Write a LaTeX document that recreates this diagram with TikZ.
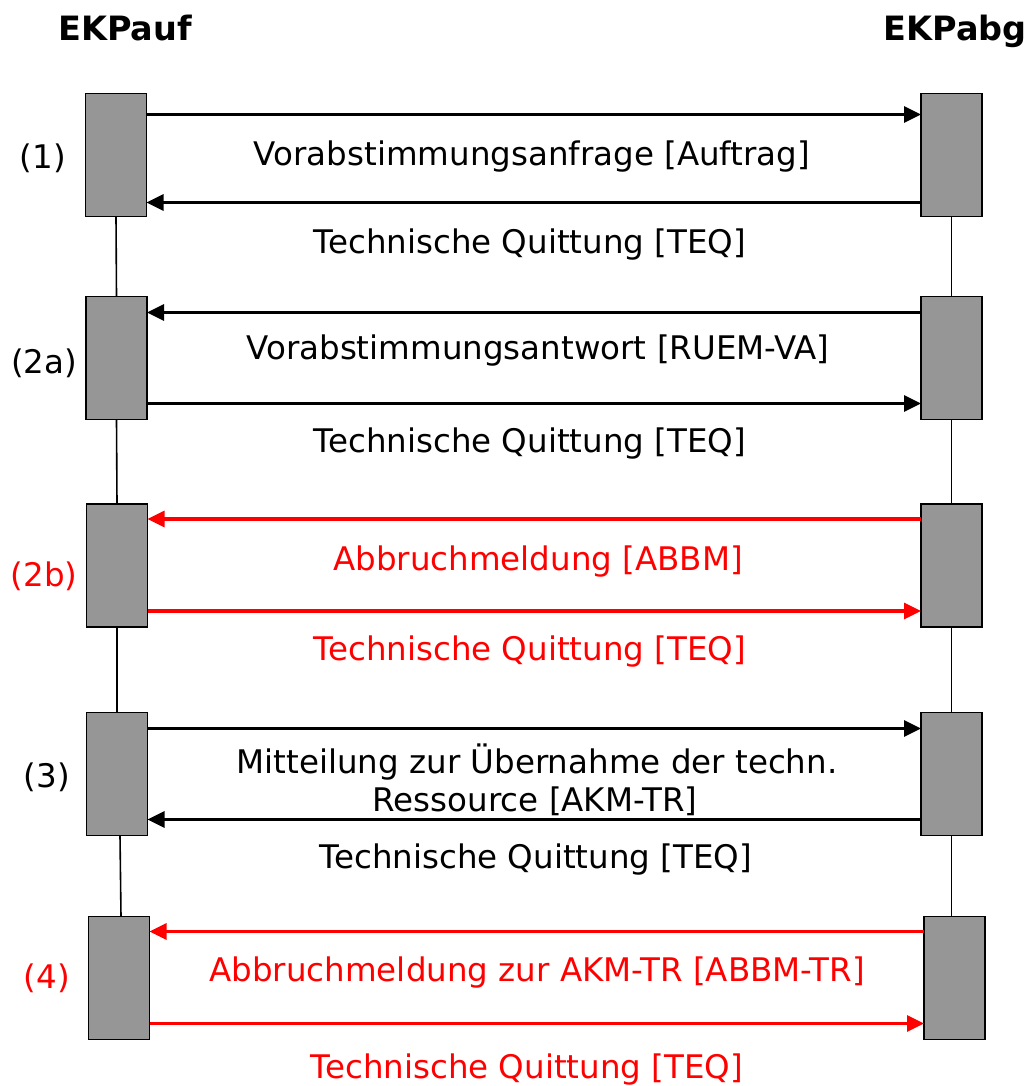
\documentclass[tikz,border=0pt]{standalone}
\usepackage{fontspec}
\setmainfont{DejaVu Sans}
\usetikzlibrary{arrows.meta}
\definecolor{boxgray}{RGB}{150,150,150}
\definecolor{msgred}{RGB}{255,0,0}
\begin{document}
\begin{tikzpicture}[x=1pt,y=-1pt,
  actbox/.style={draw=black,line width=1.8pt,fill=boxgray,minimum width=61pt,minimum height=123pt,inner sep=0pt,outer sep=0pt},
  lifeline/.style={draw=black,line width=1.6pt},
  msg/.style={line width=3.2pt,-{Triangle[length=17pt,width=16pt]}},
  redmsg/.style={msg,draw=msgred,color=msgred},
  lbl/.style={font=\fontsize{32.5}{38}\selectfont,inner sep=0pt,anchor=base},
  redlbl/.style={lbl,text=msgred},
  title/.style={font=\fontsize{33.5}{40}\selectfont\bfseries,inner sep=0pt,anchor=base}]
\useasboundingbox (0,0) rectangle (1026,1086);

% titles
\node[title] (tl) at (125,41) {EKPauf};
\node[title] (tr) at (955,41) {EKPabg};

% boxes
\node[actbox] (b1L) at (116,155) {};
\node[actbox] (b1R) at (951.5,155) {};
\node[actbox] (b2L) at (116.5,358) {};
\node[actbox] (b2R) at (951.5,358) {};
\node[actbox] (b3L) at (117,565.5) {};
\node[actbox] (b3R) at (951.5,565.5) {};
\node[actbox] (b4L) at (117,774) {};
\node[actbox] (b4R) at (951.5,774) {};
\node[actbox] (b5L) at (119,978) {};
\node[actbox] (b5R) at (954.5,978) {};

% lifelines
\draw[lifeline] (b1L.south) -- (b2L.north);
\draw[lifeline] (b2L.south) -- (b3L.north);
\draw[lifeline] (b3L.south) -- (b4L.north);
\draw[lifeline] ([xshift=3pt]b4L.south) -- ([xshift=2pt]b5L.north);
\draw[lifeline] (b1R.south) -- (b2R.north);
\draw[lifeline] (b2R.south) -- (b3R.north);
\draw[lifeline] (b3R.south) -- (b4R.north);
\draw[lifeline] (b4R.south) -- ([xshift=-3pt]b5R.north);

% phase labels
\node[lbl] (p1) at (43,169) {(1)};
\node[lbl] (p2a) at (44,373) {(2a)};
\node[redlbl] (p2b) at (44,586) {(2b)};
\node[lbl] (p3) at (47,787) {(3)};
\node[redlbl] (p4) at (47,988) {(4)};

% phase 1
\draw[msg] ([yshift=-21pt]b1L.north east) -- ([yshift=-21pt]b1R.north west);
\draw[msg] ([yshift=14pt]b1R.south west) -- ([yshift=14pt]b1L.south east);
\node[lbl] (m1a) at (532,166) {Vorabstimmungsanfrage [Auftrag]};
\node[lbl] (m1b) at (530,253) {Technische Quittung [TEQ]};

% phase 2a
\draw[msg] ([yshift=-16pt]b2R.north west) -- ([yshift=-16pt]b2L.north east);
\draw[msg] ([yshift=16pt]b2L.south east) -- ([yshift=16pt]b2R.south west);
\node[lbl] (m2a) at (538,359) {Vorabstimmungsantwort [RUEM-VA]};
\node[lbl] (m2b) at (530,452) {Technische Quittung [TEQ]};

% phase 2b
\draw[redmsg] ([yshift=-15pt]b3R.north west) -- ([yshift=-15pt]b3L.north east);
\draw[redmsg] ([yshift=16pt]b3L.south east) -- ([yshift=16pt]b3R.south west);
\node[redlbl] (m3a) at (538,570) {Abbruchmeldung [ABBM]};
\node[redlbl] (m3b) at (530,660) {Technische Quittung [TEQ]};

% phase 3
\draw[msg] ([yshift=-16pt]b4L.north east) -- ([yshift=-16pt]b4R.north west);
\draw[msg] ([yshift=16pt]b4R.south west) -- ([yshift=16pt]b4L.south east);
\node[lbl] (m4a) at (537,773) {Mitteilung zur Übernahme der techn.};
\node[lbl] (m4c) at (535,811) {Ressource [AKM-TR]};
\node[lbl] (m4b) at (536,868) {Technische Quittung [TEQ]};

% phase 4
\draw[redmsg] ([yshift=-15pt]b5R.north west) -- ([yshift=-15pt]b5L.north east);
\draw[redmsg] ([yshift=16pt]b5L.south east) -- ([yshift=16pt]b5R.south west);
\node[redlbl] (m5a) at (537,981) {Abbruchmeldung zur AKM-TR [ABBM-TR]};
\node[redlbl] (m5b) at (527,1078) {Technische Quittung [TEQ]};
\end{tikzpicture}
\end{document}
